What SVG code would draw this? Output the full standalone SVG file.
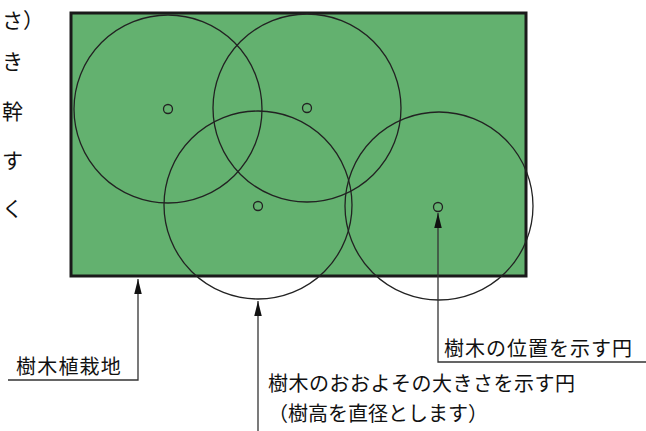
<svg xmlns="http://www.w3.org/2000/svg" width="646" height="431" viewBox="0 0 646 431">
<defs>
<style>
.t{font-family:"Noto Sans CJK JP","Liberation Sans",sans-serif;font-size:20px;fill:#111;}
.m{font-size:21px;}
.c{fill:none;stroke:#222;stroke-width:1.3;}
.l{fill:none;stroke:#333;stroke-width:1.3;}
</style>
<marker id="ah" viewBox="0 0 20 10" refX="20" refY="5" markerWidth="15" markerHeight="8" markerUnits="userSpaceOnUse" orient="auto">
<path d="M20 5 L0 0 L0 10 Z" fill="#111"/>
</marker>
</defs>
<g id="margin-text">
<text class="t m" x="2" y="28">さ）</text>
<text class="t m" x="2" y="69">き</text>
<text class="t m" x="2" y="119">幹</text>
<text class="t m" x="2" y="168">す</text>
<text class="t m" x="2" y="216">く</text>
</g>
<g id="plot">
<rect x="71" y="13" width="455" height="263" fill="#63b16f" stroke="#1a1a1a" stroke-width="3"/>
</g>
<g id="tree1">
<circle class="c" cx="168" cy="109" r="94"/>
<circle class="c" cx="168" cy="109" r="4.5"/>
</g>
<g id="tree2">
<circle class="c" cx="307" cy="108" r="94"/>
<circle class="c" cx="307" cy="108" r="4.5"/>
</g>
<g id="tree3">
<circle class="c" cx="258" cy="205" r="94"/>
<circle class="c" cx="258" cy="206" r="4.5"/>
</g>
<g id="tree4">
<circle class="c" cx="439" cy="206" r="94"/>
<circle class="c" cx="438" cy="207" r="4.5"/>
</g>
<g id="connectors">
<polyline class="l" points="8,380 138,380 138,279" marker-end="url(#ah)"/>
<line class="l" x1="258" y1="431" x2="258" y2="301" marker-end="url(#ah)"/>
<polyline class="l" points="646,362 438,362 438,213" marker-end="url(#ah)"/>
</g>
<g id="label-plot">
<text class="t" x="16" y="374" style="letter-spacing:1.2px">樹木植栽地</text>
</g>
<g id="label-size">
<text class="t" x="268" y="391" style="letter-spacing:0.5px">樹木のおおよその大きさを示す円</text>
<text class="t" x="268" y="421">（樹高を直径とします）</text>
</g>
<g id="label-pos">
<text class="t" x="444" y="356" style="letter-spacing:1px">樹木の位置を示す円</text>
</g>
</svg>
